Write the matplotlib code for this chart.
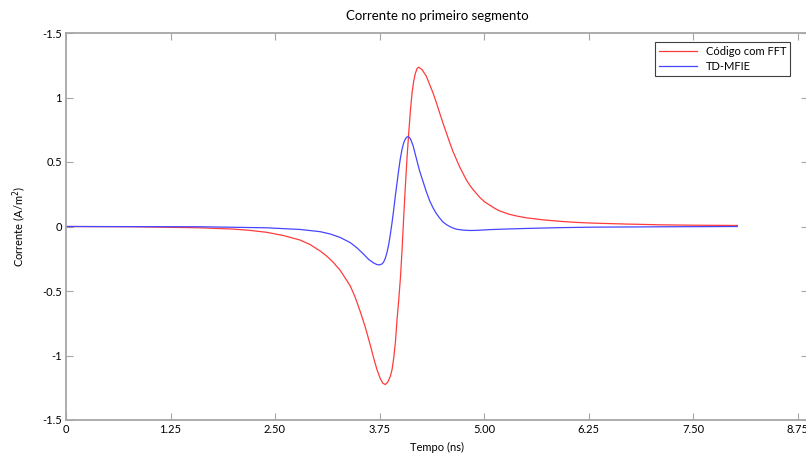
import matplotlib
matplotlib.use('Agg')
import matplotlib.pyplot as plt

plt.rcParams['font.family'] = ['Lato', 'DejaVu Sans']

# tempo (ns) e corrente (A/m^2)
t_fft = [0.0, 0.8, 1.6, 2.0, 2.2, 2.4, 2.6, 2.8, 2.92, 3.04, 3.12, 3.2, 3.28,
         3.34, 3.40, 3.46, 3.52, 3.58, 3.64, 3.68, 3.72, 3.76, 3.79, 3.82,
         3.85, 3.88, 3.90, 3.92, 3.94, 3.96, 3.98, 4.00, 4.02, 4.04, 4.06,
         4.08, 4.10, 4.12, 4.14, 4.16, 4.18, 4.20, 4.22, 4.26, 4.31, 4.35,
         4.39, 4.43, 4.47, 4.51, 4.55, 4.59, 4.63, 4.67, 4.71, 4.75, 4.79,
         4.83, 4.87, 4.91, 4.95, 5.01, 5.07, 5.13, 5.19, 5.3, 5.4, 5.51, 5.7,
         5.91, 6.1, 6.31, 6.7, 7.11, 7.5, 8.03]
i_fft = [0.0, -0.002, -0.01, -0.02, -0.03, -0.045, -0.07, -0.105, -0.14,
         -0.19, -0.23, -0.28, -0.34, -0.40, -0.46, -0.55, -0.66, -0.78, -0.92,
         -1.02, -1.11, -1.18, -1.215, -1.225, -1.205, -1.16, -1.11, -1.02,
         -0.90, -0.72, -0.57, -0.40, -0.18, 0.08, 0.32, 0.54, 0.73, 0.90, 1.04,
         1.13, 1.19, 1.225, 1.235, 1.215, 1.165, 1.10, 1.036, 0.96, 0.88, 0.80,
         0.726, 0.65, 0.58, 0.52, 0.46, 0.41, 0.36, 0.32, 0.285, 0.255, 0.225,
         0.19, 0.165, 0.14, 0.12, 0.095, 0.08, 0.067, 0.052, 0.04, 0.032,
         0.026, 0.019, 0.013, 0.01, 0.008]

t_mfie = [0.0, 1.6, 2.4, 2.8, 3.04, 3.16, 3.28, 3.40, 3.48, 3.56, 3.62, 3.68,
          3.72, 3.75, 3.78, 3.80, 3.82, 3.84, 3.86, 3.88, 3.90, 3.92, 3.94,
          3.96, 3.98, 4.00, 4.02, 4.04, 4.06, 4.08, 4.10, 4.12, 4.15, 4.19,
          4.23, 4.27, 4.31, 4.35, 4.39, 4.43, 4.47, 4.51, 4.55, 4.59, 4.63,
          4.67, 4.75, 4.83, 4.91, 5.07, 5.3, 5.51, 5.9, 6.31, 7.2, 8.03]
i_mfie = [0.0, -0.002, -0.01, -0.023, -0.04, -0.058, -0.085, -0.125, -0.165,
          -0.215, -0.255, -0.283, -0.295, -0.298, -0.29, -0.275, -0.245, -0.20,
          -0.14, -0.06, 0.03, 0.13, 0.24, 0.34, 0.44, 0.53, 0.60, 0.65, 0.68,
          0.695, 0.695, 0.68, 0.63, 0.53, 0.43, 0.35, 0.27, 0.20, 0.145, 0.10,
          0.065, 0.035, 0.015, 0.0, -0.012, -0.021, -0.028, -0.031, -0.03,
          -0.024, -0.019, -0.015, -0.009, -0.005, -0.002, 0.0]

xticks = [0, 1.25, 2.50, 3.75, 5.00, 6.25, 7.50, 8.75]
xlabels = ['0', '1.25', '2.50', '3.75', '5.00', '6.25', '7.50', '8.75']
yticks = [-1.5, -1, -0.5, 0, 0.5, 1, 1.5]
ylabels = ['-1.5', '-1', '-0.5', '0', '0.5', '1', '-1.5']

fig = plt.figure(figsize=(8.06, 4.57), dpi=100)
ax = fig.add_axes([66 / 806, 1 - 420 / 457, 742 / 806, 387 / 457])

ax.plot(t_fft, i_fft, color='#ff3c3c', lw=0.9, label='Código com FFT')
ax.plot(t_mfie, i_mfie, color='#4646ff', lw=0.9, label='TD-MFIE')

ax.set_xlim(0, 742 / 83.6)
ax.set_ylim(-1.5, 1.5)
ax.set_xticks(xticks)
ax.set_xticklabels(xlabels)
ax.set_yticks(yticks)
ax.set_yticklabels(ylabels)

for s in ax.spines.values():
    s.set_color('#a6a6a6')
    s.set_linewidth(1.3)
ax.tick_params(direction='in', length=5, color='#a6a6a6', labelsize=8,
               top=True, right=True, pad=3)

ax.set_title('Corrente no primeiro segmento', fontsize=9.5, pad=9)
ax.set_xlabel('Tempo (ns)', fontsize=8, labelpad=5)
ax.set_ylabel('Corrente (A/m$^2$)', fontsize=8, labelpad=10)

leg = ax.legend(loc='upper right', bbox_to_anchor=(724 / 742, 1 - 9 / 387),
                borderaxespad=0, fontsize=8, fancybox=False, framealpha=1,
                handlelength=3.4, borderpad=0.35, labelspacing=0.35,
                handletextpad=0.8)
leg.get_frame().set_edgecolor('#404040')
leg.get_frame().set_linewidth(0.8)

fig.savefig('out.png', dpi=100)
